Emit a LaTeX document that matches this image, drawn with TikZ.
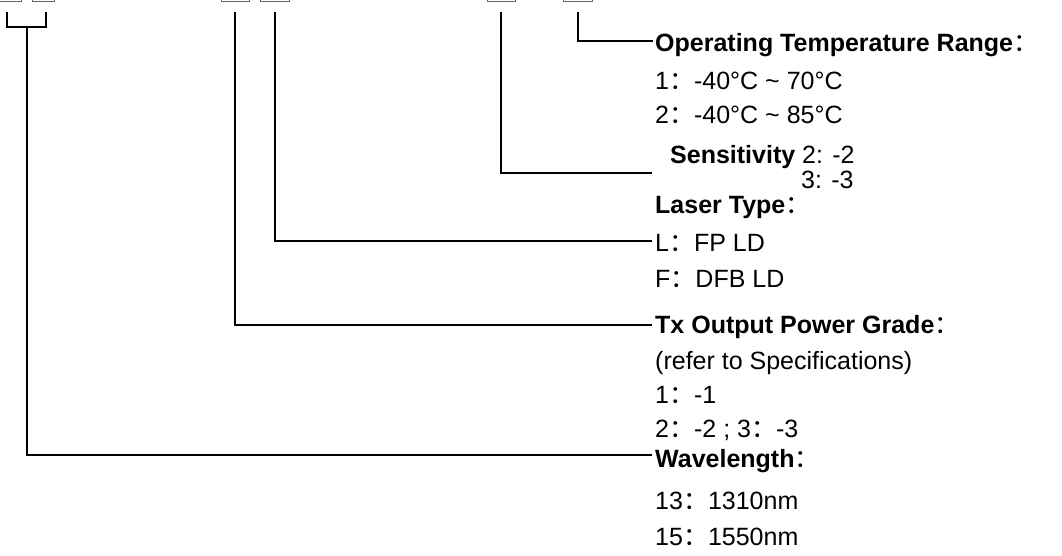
\documentclass[tikz,border=0pt]{standalone}
\usepackage{fontspec}
\setmainfont{Liberation Sans}
\newfontfamily\cjk{Noto Sans CJK SC}
\newcommand\fc{{\mdseries\cjk ：}}
\begin{document}
\begin{tikzpicture}[x=1pt,y=-1pt,
  box/.style={draw=gray!80!black,line width=1pt},
  conn/.style={line width=2pt,black},
  txt/.style={anchor=base west,inner sep=0pt,font=\fontsize{25}{28}\selectfont},
  head/.style={txt,font=\fontsize{25}{28}\selectfont\bfseries}]
\useasboundingbox (0,0) rectangle (1062,556);
% cut-off boxes at the top
\draw[box] (-7,-30) rectangle (21,1.5);
\draw[box] (32,-30) rectangle (54,1.5);
\draw[box] (221,-30) rectangle (249,1.5);
\draw[box] (260,-30) rectangle (289,1.5);
\draw[box] (487,-30) rectangle (515,1.5);
\draw[box] (563,-30) rectangle (592,1.5);
% start points
\coordinate (b1) at (7,12);
\coordinate (b2) at (46,12);
\coordinate (b3) at (235,12);
\coordinate (b4) at (275,12);
\coordinate (b5) at (501,12);
\coordinate (b6) at (578,12);
\coordinate (jn) at (27,27);
% texts
\node[head] (op) at (655,52) {Operating Temperature Range\fc};
\node[txt] (op1) at (655,90) {1\fc-40°C \char`~{} 70°C};
\node[txt] (op2) at (655,124) {2\fc-40°C \char`~{} 85°C};
\node[txt] (sens) at (670,164) {\textbf{Sensitivity} 2: -2};
\node[txt] (sens3) at (801,189) {3: -3};
\node[head] (laser) at (655,214) {Laser Type\fc};
\node[txt] (l1) at (655,251) {L\fc FP LD};
\node[txt] (l2) at (655,287) {F\fc DFB LD};
\node[head] (tx) at (655,333) {Tx Output Power Grade\fc};
\node[txt] (tx0) at (655,369) {(refer to Specifications)};
\node[txt] (tx1) at (655,403) {1\fc-1};
\node[txt] (tx2) at (655,437) {2\fc-2 ; 3\fc-3};
\node[head] (wl) at (655,467) {Wavelength\fc};
\node[txt] (wl1) at (655,509) {13\fc1310nm};
\node[txt] (wl2) at (655,545) {15\fc1550nm};
% line ends
\coordinate (e6) at ([xshift=-2pt]op.base west |- 0,41);
\coordinate (e5) at (652,173);
\coordinate (e4) at ([xshift=-3pt]l1.base west |- 0,241);
\coordinate (e3) at ([xshift=-3pt]tx.base west |- 0,325);
\coordinate (e1) at ([xshift=-3pt]wl.base west |- 0,455);
% connectors
\draw[conn] (b6) |- (e6);
\draw[conn] (b5) |- (e5);
\draw[conn] (b4) |- (e4);
\draw[conn] (b3) |- (e3);
\draw[conn] (b1) |- (jn) -| (b2);
\draw[conn] (jn) |- (e1);
\end{tikzpicture}
\end{document}
